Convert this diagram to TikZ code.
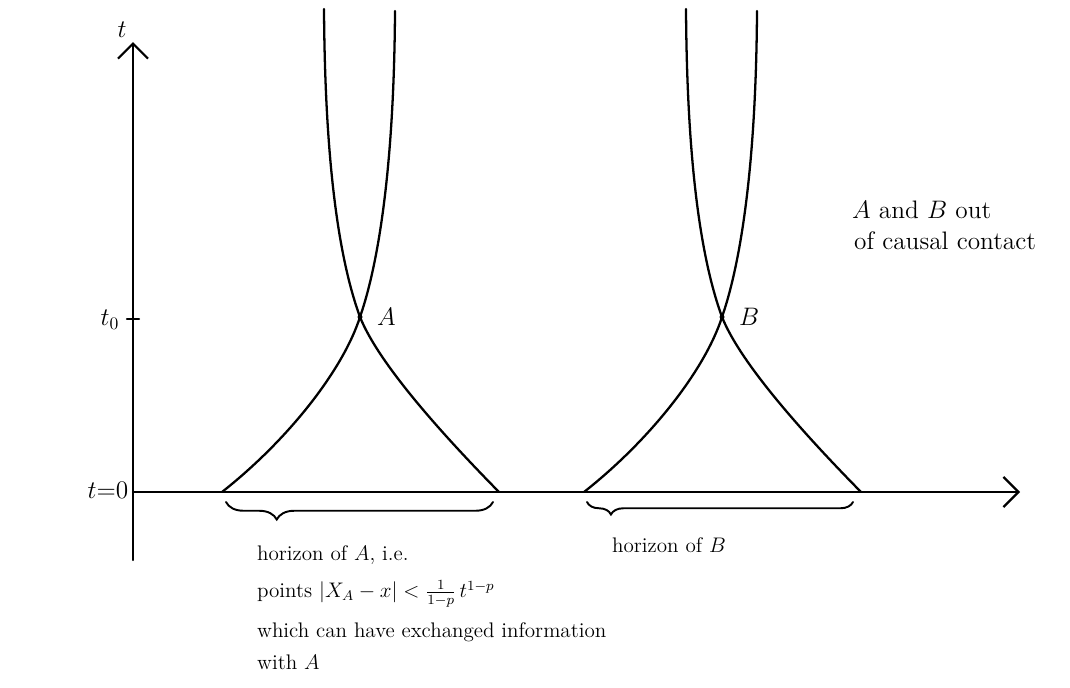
\documentclass[tikz,border=0pt]{standalone}
\usepackage{amsmath,amssymb}
\usetikzlibrary{positioning,arrows.meta,decorations.pathreplacing}

\begin{document}
\begin{tikzpicture}[
    x=0.02cm, y=-0.02cm,
    node distance=2mm and 2mm,
    pen/.style={line width=1.3pt, line cap=round},
    axis/.style={pen, -{Straight Barb[length=3mm,width=6mm,line width=1.3pt]}},
    lbl/.style={font=\Large, inner sep=1pt},
    note/.style={font=\large, anchor=west, inner sep=1pt},
    hbrace/.style={line width=1.1pt, line cap=round, decorate, decoration={brace, mirror, amplitude=3.5mm}}
]
\useasboundingbox (0,0) rectangle (1070,687);
% axes
\coordinate (tbot) at (133,560);
\coordinate (ttop) at (133,42);
\coordinate (origin) at (133,492);
\coordinate (xend) at (1020,492);
\draw[axis] (tbot) -- (ttop);
\draw[axis] (origin) -- (xend);
\node[lbl] (tlab) at (122,30) {$t$};
\node[lbl] (t0lab) at (110,320) {$t_0$};
\node[lbl] (tzero) at (108,490) {$t{=}0$};
\coordinate (tick) at (133,319);
\draw[pen] ([xshift=-1.2mm]tick) -- ([xshift=1.2mm]tick);

% event A and its horizon
\coordinate (A) at (360,317);
\coordinate (Atl) at (324,9);
\coordinate (Atr) at (395,11);
\coordinate (Abl) at (222,492);
\coordinate (Abr) at (499,492);
\draw[pen] (Atl) .. controls (325,170) and (340,262) .. (A)
    .. controls (378,362) and (438,430) .. (Abr);
\draw[pen] (Atr) .. controls (394,170) and (378,265) .. (A)
    .. controls (343,370) and (288,440) .. (Abl);
\fill (A) circle (2.5);
\node[lbl, right=3mm of A] (Alab) {$A$};

% event B and its horizon
\coordinate (B) at (722,317);
\coordinate (Btl) at (686,9);
\coordinate (Btr) at (757,11);
\coordinate (Bbl) at (584,492);
\coordinate (Bbr) at (861,492);
\draw[pen] (Btl) .. controls (687,170) and (702,262) .. (B)
    .. controls (740,362) and (800,430) .. (Bbr);
\draw[pen] (Btr) .. controls (756,170) and (740,265) .. (B)
    .. controls (705,370) and (650,440) .. (Bbl);
\fill (B) circle (2.5);
\node[lbl, right=3mm of B] (Blab) {$B$};

% braces under the axis
\coordinate (hAl) at (226,502);
\coordinate (hAr) at (493,502);
\coordinate (hBl) at (587,502);
\coordinate (hBr) at (853,502);
\draw[hbrace, decoration={aspect=0.19}] (hAl) -- (hAr);
\draw[hbrace, decoration={aspect=0.09, amplitude=2.5mm}] (hBl) -- (hBr);

% notes
\node[note] (hzA) at (255,555) {horizon of $A$, i.e.};
\node[note] (pts) at (255,594) {points $|X_A - x| < \frac{1}{1-p}\, t^{1-p}$};
\node[note] (exch) at (255,632) {which can have exchanged information};
\node[note] (withA) at (255,662) {with $A$};
\node[note] (hzB) at (610,545) {horizon of $B$};
\node[note, font=\Large] (cut) at (850,210) {$A$ and $B$ out};
\node[note, font=\Large] (causal) at (852,241) {of causal contact};
\end{tikzpicture}
\end{document}
